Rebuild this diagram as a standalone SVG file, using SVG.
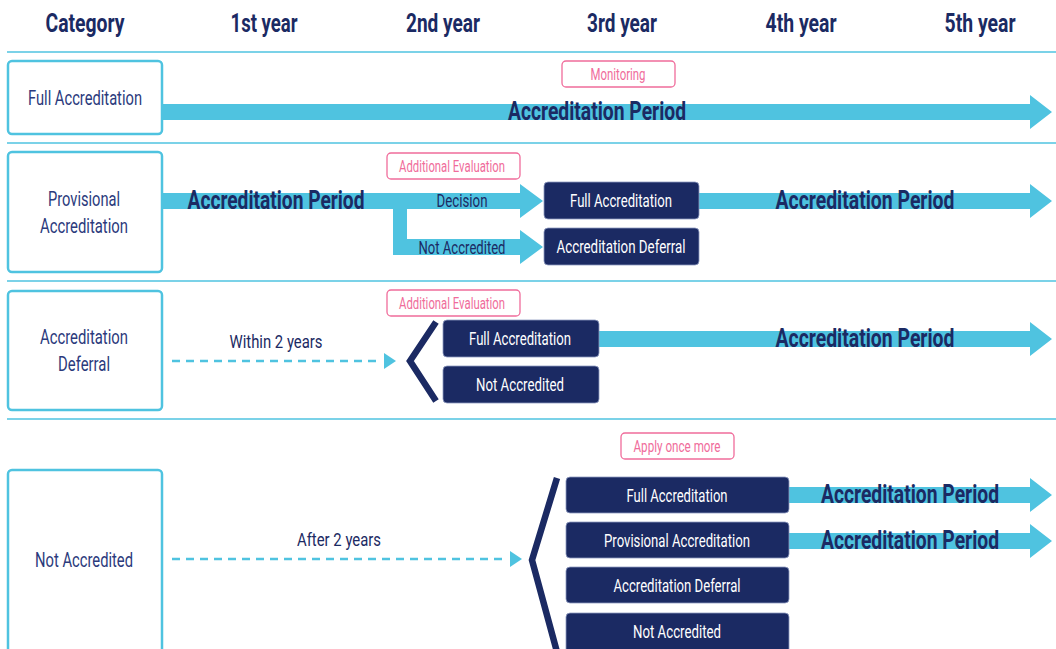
<svg xmlns="http://www.w3.org/2000/svg" width="1056" height="649" viewBox="0 0 1056 649">
<style>
.hdr{font-family:Roboto,"Liberation Sans",sans-serif;font-weight:bold;font-size:26px;fill:#1b2a63;text-anchor:middle}
.cat{fill:#fff;stroke:#4fc3e0;stroke-width:2.5}
.catt{font-family:Roboto,"Liberation Sans",sans-serif;font-size:21px;fill:#2b3a7c;text-anchor:middle}
.sep{stroke:#4fc3e0;stroke-width:1.5}
.bar{fill:#4fc3e0}
.per{font-family:Roboto,"Liberation Sans",sans-serif;font-weight:bold;font-size:25px;fill:#1b2a63;text-anchor:middle}
.lbl{font-family:Roboto,"Liberation Sans",sans-serif;font-size:19px;fill:#1b2a63;text-anchor:middle}
.pink{fill:#fff;stroke:#f06c9b;stroke-width:1.3}
.pinkt{font-family:Roboto,"Liberation Sans",sans-serif;font-size:16px;fill:#f06c9b;text-anchor:middle}
.nbox{fill:#1b2a63;stroke:#8e9ac0;stroke-width:0.8}
.nt{font-family:Roboto,"Liberation Sans",sans-serif;font-size:19px;fill:#fff;text-anchor:middle}
.dash{stroke:#4fc3e0;stroke-width:2.5;stroke-dasharray:8 6;fill:none}
.chev{stroke:#1b2a63;stroke-width:6.5;fill:none}
</style>
<rect width="1056" height="649" fill="#fff"/>
<g id="header">
<text class="hdr" x="85" y="32" textLength="79" lengthAdjust="spacingAndGlyphs">Category</text>
<text class="hdr" x="264" y="32" textLength="67" lengthAdjust="spacingAndGlyphs">1st year</text>
<text class="hdr" x="443" y="32" textLength="74" lengthAdjust="spacingAndGlyphs">2nd year</text>
<text class="hdr" x="622" y="32" textLength="70" lengthAdjust="spacingAndGlyphs">3rd year</text>
<text class="hdr" x="801" y="32" textLength="71" lengthAdjust="spacingAndGlyphs">4th year</text>
<text class="hdr" x="980" y="32" textLength="71" lengthAdjust="spacingAndGlyphs">5th year</text>
</g>
<g id="separators">
<line class="sep" x1="7" y1="52" x2="1056" y2="52" stroke-width="2.5"/>
<line class="sep" x1="7" y1="143" x2="1056" y2="143"/>
<line class="sep" x1="7" y1="281" x2="1056" y2="281"/>
<line class="sep" x1="7" y1="419" x2="1056" y2="419"/>
</g>
<g id="connectors">
<path class="bar" d="M162 104 H1030 V95 L1052 112 L1030 129 V120 H162 Z"/>
<path class="bar" d="M162 193 H520 V184 L543 201 L520 218 V209 H407 V239 H520 V230 L543 247 L520 264 V255 H393 V209 H162 Z"/>
<path class="bar" d="M699 193 H1030 V184 L1052 201 L1030 218 V209 H699 Z"/>
<line class="dash" x1="172" y1="361" x2="382" y2="361"/>
<path class="bar" d="M384 353 L396 361 L384 369 Z"/>
<path class="chev" d="M436 322 L410 361 L436 401"/>
<path class="bar" d="M599 331 H1030 V322 L1052 339 L1030 356 V347 H599 Z"/>
<line class="dash" x1="172" y1="559" x2="508" y2="559"/>
<path class="bar" d="M510 551 L522 559 L510 567 Z"/>
<path class="chev" d="M557 478 L532 560 L557 652"/>
<path class="bar" d="M789 487 H1030 V478 L1052 495 L1030 512 V503 H789 Z"/>
<path class="bar" d="M789 533 H1030 V524 L1052 541 L1030 558 V549 H789 Z"/>
</g>
<g id="labels">
<text class="per" x="597" y="120" textLength="178" lengthAdjust="spacingAndGlyphs">Accreditation Period</text>
<text class="per" x="276" y="209" textLength="177" lengthAdjust="spacingAndGlyphs">Accreditation Period</text>
<text class="lbl" x="462" y="207" textLength="51" lengthAdjust="spacingAndGlyphs">Decision</text>
<text class="lbl" x="462" y="254" textLength="87" lengthAdjust="spacingAndGlyphs">Not Accredited</text>
<text class="per" x="865" y="209" textLength="179" lengthAdjust="spacingAndGlyphs">Accreditation Period</text>
<text class="lbl" x="276" y="348" textLength="93" lengthAdjust="spacingAndGlyphs">Within 2 years</text>
<text class="per" x="865" y="347" textLength="179" lengthAdjust="spacingAndGlyphs">Accreditation Period</text>
<text class="lbl" x="339" y="546" textLength="84" lengthAdjust="spacingAndGlyphs">After 2 years</text>
<text class="per" x="910" y="503" textLength="178" lengthAdjust="spacingAndGlyphs">Accreditation Period</text>
<text class="per" x="910" y="549" textLength="178" lengthAdjust="spacingAndGlyphs">Accreditation Period</text>
</g>
<g id="cat-full">
<rect class="cat" x="8" y="61" width="154" height="73" rx="4"/>
<text class="catt" x="85" y="105" textLength="114" lengthAdjust="spacingAndGlyphs">Full Accreditation</text>
</g>
<g id="cat-provisional">
<rect class="cat" x="8" y="152" width="154" height="120" rx="4"/>
<text class="catt" x="84" y="206" textLength="72" lengthAdjust="spacingAndGlyphs">Provisional</text>
<text class="catt" x="84" y="233" textLength="88" lengthAdjust="spacingAndGlyphs">Accreditation</text>
</g>
<g id="cat-deferral">
<rect class="cat" x="8" y="291" width="154" height="119" rx="4"/>
<text class="catt" x="84" y="344" textLength="88" lengthAdjust="spacingAndGlyphs">Accreditation</text>
<text class="catt" x="84" y="371" textLength="52" lengthAdjust="spacingAndGlyphs">Deferral</text>
</g>
<g id="cat-not">
<rect class="cat" x="8" y="470" width="154" height="190" rx="4"/>
<text class="catt" x="84" y="567" textLength="98" lengthAdjust="spacingAndGlyphs">Not Accredited</text>
</g>
<g id="monitoring">
<rect class="pink" x="562" y="61" width="113" height="26" rx="4"/>
<text class="pinkt" x="618" y="80" textLength="55" lengthAdjust="spacingAndGlyphs">Monitoring</text>
</g>
<g id="addeval-2">
<rect class="pink" x="387" y="153" width="133" height="26" rx="4"/>
<text class="pinkt" x="452" y="172" textLength="106" lengthAdjust="spacingAndGlyphs">Additional Evaluation</text>
</g>
<g id="r2-full">
<rect class="nbox" x="544" y="182" width="155" height="37" rx="4"/>
<text class="nt" x="621" y="207" textLength="102" lengthAdjust="spacingAndGlyphs">Full Accreditation</text>
</g>
<g id="r2-deferral">
<rect class="nbox" x="544" y="228" width="155" height="37" rx="4"/>
<text class="nt" x="621" y="253" textLength="129" lengthAdjust="spacingAndGlyphs">Accreditation Deferral</text>
</g>
<g id="addeval-3">
<rect class="pink" x="387" y="290" width="133" height="26" rx="4"/>
<text class="pinkt" x="452" y="309" textLength="106" lengthAdjust="spacingAndGlyphs">Additional Evaluation</text>
</g>
<g id="r3-full">
<rect class="nbox" x="443" y="320" width="156" height="37" rx="4"/>
<text class="nt" x="520" y="345" textLength="102" lengthAdjust="spacingAndGlyphs">Full Accreditation</text>
</g>
<g id="r3-not">
<rect class="nbox" x="443" y="366" width="156" height="37" rx="4"/>
<text class="nt" x="520" y="391" textLength="88" lengthAdjust="spacingAndGlyphs">Not Accredited</text>
</g>
<g id="apply">
<rect class="pink" x="621" y="433" width="113" height="26" rx="4"/>
<text class="pinkt" x="677" y="452" textLength="87" lengthAdjust="spacingAndGlyphs">Apply once more</text>
</g>
<g id="r4-full">
<rect class="nbox" x="566" y="477" width="223" height="36" rx="4"/>
<text class="nt" x="677" y="502" textLength="101" lengthAdjust="spacingAndGlyphs">Full Accreditation</text>
</g>
<g id="r4-prov">
<rect class="nbox" x="566" y="522" width="223" height="36" rx="4"/>
<text class="nt" x="677" y="547" textLength="146" lengthAdjust="spacingAndGlyphs">Provisional Accreditation</text>
</g>
<g id="r4-def">
<rect class="nbox" x="566" y="567" width="223" height="36" rx="4"/>
<text class="nt" x="677" y="592" textLength="127" lengthAdjust="spacingAndGlyphs">Accreditation Deferral</text>
</g>
<g id="r4-not">
<rect class="nbox" x="566" y="613" width="223" height="40" rx="4"/>
<text class="nt" x="677" y="638" textLength="88" lengthAdjust="spacingAndGlyphs">Not Accredited</text>
</g>
</svg>
